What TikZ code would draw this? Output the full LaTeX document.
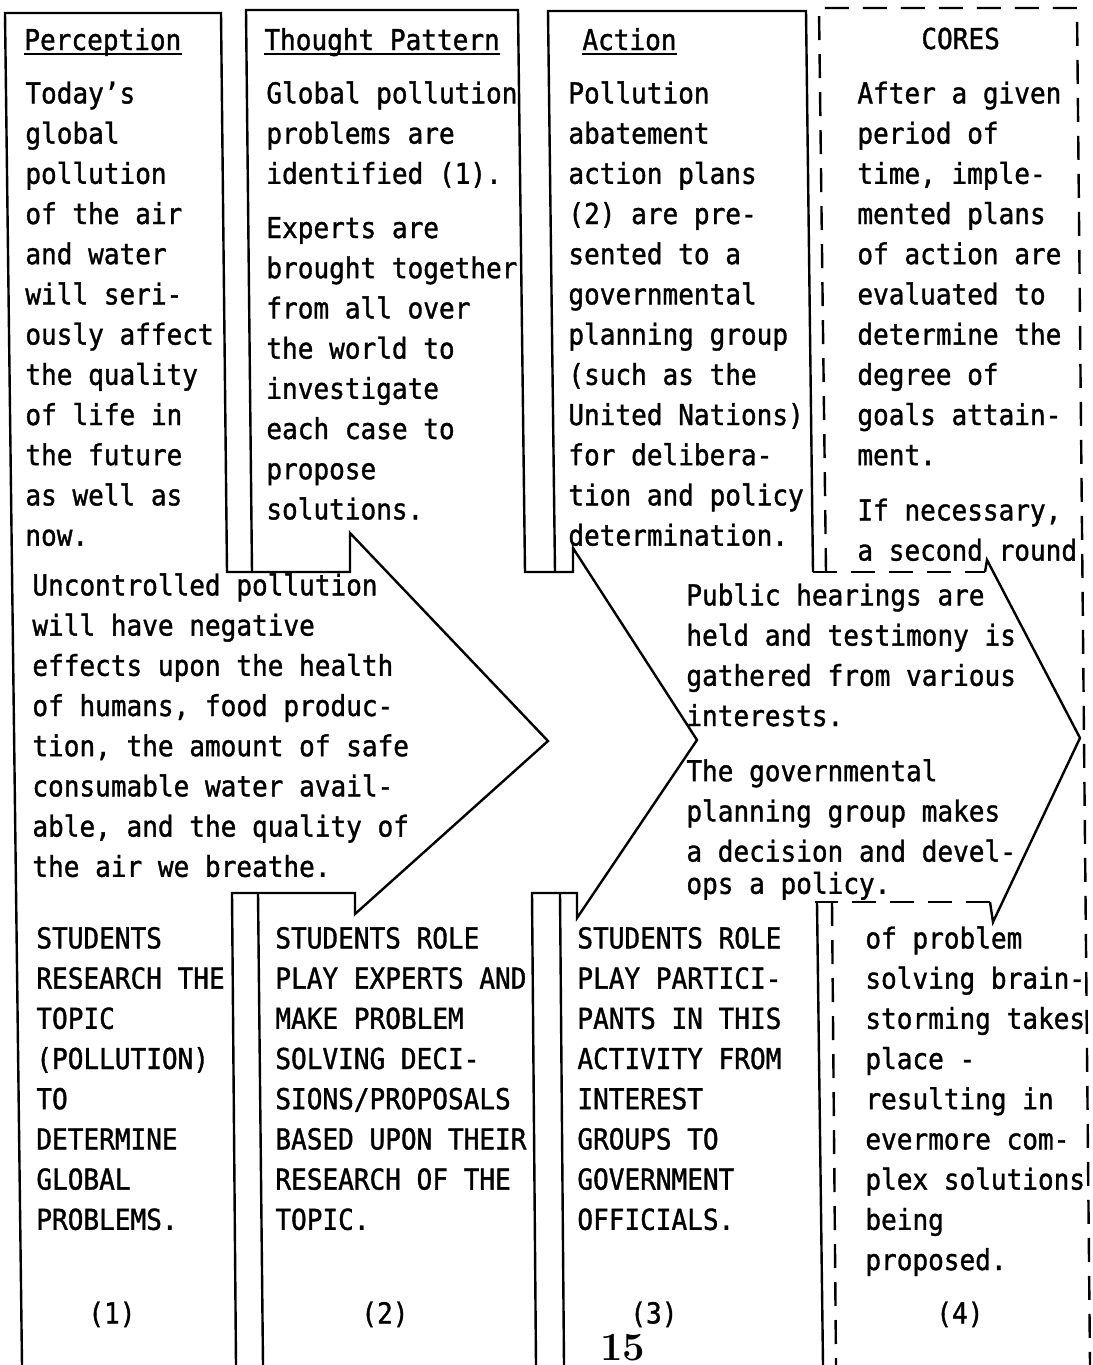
\documentclass[tikz,border=0pt]{standalone}
\usepackage{fontspec}
\newfontfamily\mono[FakeStretch=0.905,FakeBold=1.2]{DejaVu Sans Mono}
\begin{document}
\begin{tikzpicture}[x=0.5pt,y=-0.5pt,
  ln/.style={line width=1.2pt, line join=miter},
  dl/.style={line width=1.2pt, dash pattern=on 12pt off 7pt},
  ul/.style={line width=1pt},
  txt/.style={anchor=north west, inner sep=0pt, align=left, font=\fontsize{14.4}{20.1}\selectfont\mono},
  hdr/.style={anchor=base west, inner sep=0pt, font=\fontsize{14.4}{20.1}\selectfont\mono},
  pg/.style={anchor=base west, inner sep=0pt, font=\fontsize{20}{22}\selectfont\bfseries}
]
\useasboundingbox (0,0) rectangle (1092,1365);
\fill[white] (0,0) rectangle (1092,1365);
\clip (0,0) rectangle (1092,1365);

% ---------- arrow 1 (Perception) ----------
\coordinate (p1) at (22,1365);
\coordinate (p2) at (5,13);
\coordinate (p3) at (221,13);
\coordinate (p4) at (227,572);
\coordinate (a1u0) at (350,572);
\coordinate (a1u) at (350,533);
\coordinate (a1t) at (548,741);
\coordinate (a1l) at (355,914);
\coordinate (a1l0) at (355,893);
\coordinate (p5) at (232,893);
\coordinate (p6) at (236,1365);
\draw[ln] (p1) -- (p2) -- (p3) -- (p4) -- (a1u0) -- (a1u) -- (a1t) -- (a1l) -- (a1l0) -- (p5) -- (p6);

% ---------- arrow 2 (Thought Pattern) ----------
\coordinate (q1) at (252,572);
\coordinate (q2) at (246,10);
\coordinate (q3) at (518,10);
\coordinate (q4) at (525,572);
\coordinate (a2u0) at (573,572);
\coordinate (a2u) at (573,548);
\coordinate (a2t) at (697,740);
\coordinate (a2l) at (577,918);
\coordinate (a2l0) at (577,893);
\coordinate (q5) at (532,893);
\coordinate (q6) at (536,1365);
\coordinate (q7) at (258,893);
\coordinate (q8) at (263,1365);
\draw[ln] (q1) -- (q2) -- (q3) -- (q4) -- (a2u0) -- (a2u) -- (a2t) -- (a2l) -- (a2l0) -- (q5) -- (q6);
\draw[ln] (q7) -- (q8);

% ---------- arrow 3 (Action) ----------
\coordinate (r1) at (555,572);
\coordinate (r2) at (548,11);
\coordinate (r3) at (806,11);
\coordinate (r4) at (813,572);
\coordinate (a3u0) at (985,572);
\coordinate (a3u) at (987,560);
\coordinate (a3t) at (1080,738);
\coordinate (a3l) at (993,922);
\coordinate (a3l0) at (990,902);
\coordinate (r5) at (815,902);
\coordinate (r6) at (817,902);
\coordinate (r7) at (823,1365);
\coordinate (r8) at (560,893);
\coordinate (r9) at (564,1365);
\draw[ln] (r1) -- (r2) -- (r3) -- (r4);
\draw[dl] (r4) -- (a3u0);
\draw[ln] (a3u0) -- (a3u) -- (a3t) -- (a3l) -- (a3l0);
\draw[dl] (a3l0) -- (r5);
\draw[ln] (r6) -- (r7);
\draw[ln] (r8) -- (r9);

% ---------- CORES (dashed) ----------
\coordinate (s1) at (826,572);
\coordinate (s2) at (819,8);
\coordinate (s3) at (1077,8);
\coordinate (s4) at (1090,1365);
\coordinate (s5) at (832,902);
\coordinate (s6) at (836,1365);
\draw[dl] (s1) -- (s2) -- (s3) -- (s4);
\draw[dl] (s5) -- (s6);

% ---------- headers ----------
\node[hdr] (hP) at (24,50) {Perception};
\draw[ul] ([yshift=-2pt]hP.base west) -- ([yshift=-2pt]hP.base east);
\node[hdr] (hT) at (264,50) {Thought Pattern};
\draw[ul] ([yshift=-2pt]hT.base west) -- ([yshift=-2pt]hT.base east);
\node[hdr] (hA) at (582,50) {Action};
\draw[ul] ([yshift=-2pt]hA.base west) -- ([yshift=-2pt]hA.base east);
\node[hdr] (hC) at (921,49) {CORES};

% ---------- top texts ----------
\node[txt] (tP) at (25,79) {\rule{0pt}{12pt}Today’s\\global\\pollution\\of the air\\and water\\will seri-\\ously affect\\the quality\\of life in\\the future\\as well as\\now.};
\node[txt] (tT) at (266,79) {\rule{0pt}{12pt}Global pollution\\problems are\\identified (1).\\[7pt]Experts are\\brought together\\from all over\\the world to\\investigate\\each case to\\propose\\solutions.};
\node[txt] (tA) at (568,79) {\rule{0pt}{12pt}Pollution\\abatement\\action plans\\(2) are pre-\\sented to a\\governmental\\planning group\\(such as the\\United Nations)\\for delibera-\\tion and policy\\determination.};
\node[txt] (tC) at (857,79) {\rule{0pt}{12pt}After a given\\period of\\time, imple-\\mented plans\\of action are\\evaluated to\\determine the\\degree of\\goals attain-\\ment.\\[7.5pt]If necessary,\\a second round};

% ---------- middle texts ----------
\node[txt] (m1) at (32,571) {\rule{0pt}{12pt}Uncontrolled pollution\\will have negative\\effects upon the health\\of humans, food produc-\\tion, the amount of safe\\consumable water avail-\\able, and the quality of\\the air we breathe.};
\node[txt] (m3) at (686,581) {\rule{0pt}{12pt}Public hearings are\\held and testimony is\\gathered from various\\interests.\\[7.5pt]The governmental\\planning group makes\\a decision and devel-\\[-4pt]ops a policy.};

% ---------- bottom texts ----------
\node[txt] (b1) at (36,924) {\rule{0pt}{12pt}STUDENTS\\RESEARCH THE\\TOPIC\\(POLLUTION)\\TO\\DETERMINE\\GLOBAL\\PROBLEMS.};
\node[txt] (b2) at (275,924) {\rule{0pt}{12pt}STUDENTS ROLE\\PLAY EXPERTS AND\\MAKE PROBLEM\\SOLVING DECI-\\SIONS/PROPOSALS\\BASED UPON THEIR\\RESEARCH OF THE\\TOPIC.};
\node[txt] (b3) at (577,924) {\rule{0pt}{12pt}STUDENTS ROLE\\PLAY PARTICI-\\PANTS IN THIS\\ACTIVITY FROM\\INTEREST\\GROUPS TO\\GOVERNMENT\\OFFICIALS.};
\node[txt] (b4) at (865,924) {\rule{0pt}{12pt}of problem\\solving brain-\\storming takes\\place -\\resulting in\\evermore com-\\plex solutions\\being\\proposed.};

\node[txt] (n1) at (88,1299) {\rule{0pt}{12pt}(1)};
\node[txt] (n2) at (361,1299) {\rule{0pt}{12pt}(2)};
\node[txt] (n3) at (630,1299) {\rule{0pt}{12pt}(3)};
\node[txt] (n4) at (936,1299) {\rule{0pt}{12pt}(4)};

\node[pg] (page) at (600,1360) {15};
\end{tikzpicture}
\end{document}
